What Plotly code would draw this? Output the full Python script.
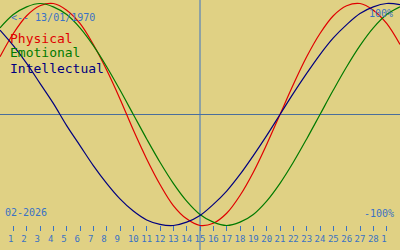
import plotly.graph_objects as go

# Days of February 2026 (0 = 31 Jan, 29 = 1 Mar, 30 = 2 Mar)
days = list(range(0, 31))
physical = [0.52, 0.73, 0.89, 0.98, 1.00, 0.94, 0.82, 0.63, 0.40, 0.14,
            -0.14, -0.40, -0.63, -0.82, -0.94, -1.00, -0.98, -0.89, -0.73, -0.52,
            -0.27, 0.00, 0.27, 0.52, 0.73, 0.89, 0.98, 1.00, 0.94, 0.82, 0.63]
emotional = [0.78, 0.90, 0.97, 1.00, 0.97, 0.90, 0.78, 0.62, 0.43, 0.22,
             0.00, -0.22, -0.43, -0.62, -0.78, -0.90, -0.97, -1.00, -0.97, -0.90,
             -0.78, -0.62, -0.43, -0.22, 0.00, 0.22, 0.43, 0.62, 0.78, 0.90, 0.97]
intellectual = [0.76, 0.62, 0.46, 0.28, 0.10, -0.10, -0.28, -0.46, -0.62, -0.76,
                -0.87, -0.95, -0.99, -1.00, -0.97, -0.91, -0.81, -0.69, -0.54, -0.37,
                -0.19, 0.00, 0.19, 0.37, 0.54, 0.69, 0.81, 0.91, 0.97, 1.00, 0.99]

tick_days = list(range(1, 30))
tick_labels = [str(d) for d in range(1, 29)] + ["1"]
today = 15
birth_label = "<-- 13/01/1970"
month_label = "02-2026"
series_names = ["Physical", "Emotional", "Intellectual"]

BG = "#E0D184"
BLUE = "#3A72C4"
colors = ["#E00000", "#007A00", "#00007F"]
MONO = "DejaVu Sans Mono"

fig = go.Figure()
for name, vals, col in zip(series_names, [physical, emotional, intellectual], colors):
    fig.add_trace(go.Scatter(x=days, y=vals, mode="lines", name=name,
                             line=dict(color=col, width=1.2, shape="spline", smoothing=1.0),
                             hoverinfo="skip"))

# zero line and today marker
fig.add_shape(type="line", xref="paper", yref="y", x0=0, x1=1, y0=0, y1=0,
              line=dict(color="#4A6E9C", width=1), layer="below")
fig.add_shape(type="line", xref="x", yref="paper", x0=today, x1=today, y0=0, y1=1,
              line=dict(color=BLUE, width=1), layer="below")

ticklabels_padded = [t if len(t) > 1 else t + "\u00a0" for t in tick_labels]

fig.update_layout(
    width=400, height=250, autosize=False,
    margin=dict(l=0, r=0, t=0, b=0, pad=0),
    paper_bgcolor=BG, plot_bgcolor=BG,
    showlegend=False,
    xaxis=dict(range=[0, 30], anchor="free", position=0.1,
               tickvals=tick_days, ticktext=ticklabels_padded,
               ticks="outside", ticklen=5, tickwidth=1, tickcolor=BLUE,
               tickfont=dict(family=MONO, size=9, color=BLUE),
               showline=False, showgrid=False, zeroline=False, fixedrange=True),
    yaxis=dict(range=[-1.2207, 1.0315], visible=False, showgrid=False,
               zeroline=False, fixedrange=True),
)

def px_x(x):
    return x / 400.0

def px_y(y):
    return 1 - y / 250.0

annos = [
    (birth_label, 10, 17, "left", BLUE, 10),
    (series_names[0], 9, 38, "left", colors[0], 13),
    (series_names[1], 9, 53, "left", colors[1], 13),
    (series_names[2], 9, 68, "left", colors[2], 13),
    ("100%", 394, 13, "right", BLUE, 10),
    ("-100%", 395, 213, "right", BLUE, 10),
    (month_label, 4, 212, "left", BLUE, 10),
]
for text, x, y, anchor, col, size in annos:
    fig.add_annotation(text=text, xref="paper", yref="paper", x=px_x(x), y=px_y(y),
                       xanchor=anchor, yanchor="middle", showarrow=False,
                       font=dict(family=MONO, size=size, color=col), borderpad=0)

fig.write_html("out.html", config={"displayModeBar": False})
